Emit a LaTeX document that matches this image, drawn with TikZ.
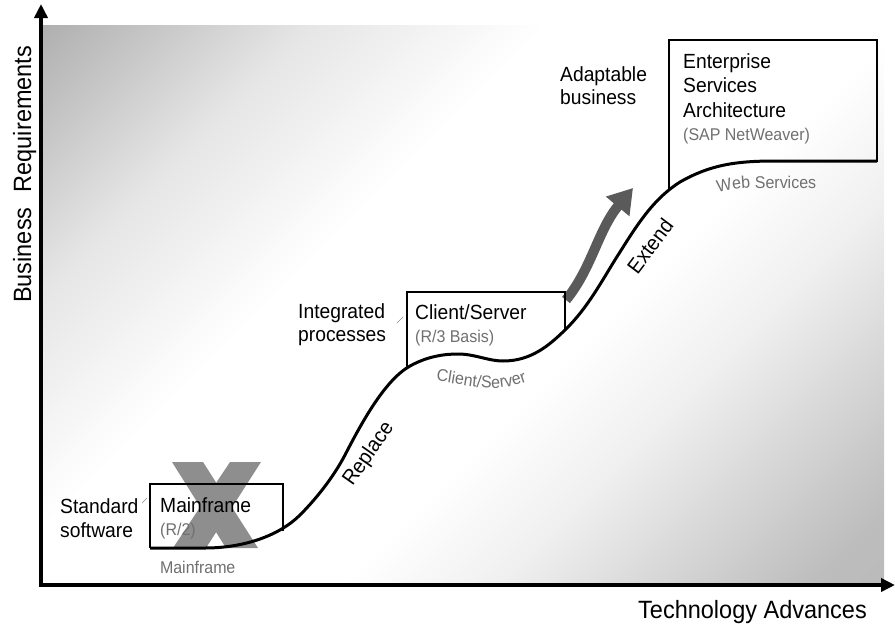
\documentclass[tikz,border=0pt]{standalone}
\usepackage{fontspec}
\setmainfont{Liberation Sans}[FakeStretch=0.94]
\usetikzlibrary{arrows.meta, positioning, decorations.text}

\definecolor{subgray}{HTML}{707070}
\definecolor{arrowgray}{HTML}{5A5A5A}
\definecolor{xgray}{HTML}{8E8E8E}

\pgfdeclareverticalshading{planeshade}{100bp}{color(0bp)=(black!30); color(18bp)=(black!26); color(34bp)=(black!6); color(42bp)=(white); color(60bp)=(white); color(72bp)=(black!10); color(86bp)=(black!32); color(100bp)=(black!35)}

\tikzset{
  axisline/.style={line width=4pt, -{Triangle[width=13pt,length=14pt]}},
  stage/.style={line width=2.5pt, line join=miter},
  sline/.style={line width=3pt},
  leader/.style={black!45, line width=0.6pt},
  lbl/.style={inner sep=0pt, anchor=base west, align=left, font=\fontsize{20.5}{24}\selectfont},
  subtext/.style={inner sep=0pt, anchor=base west, text=subgray, font=\fontsize{17}{17}\selectfont},
  axislabel/.style={inner sep=0pt, anchor=base west, font=\fontsize{25}{25}\selectfont}
}

\begin{document}
\begin{tikzpicture}[x=1pt, y=-1pt]
  \useasboundingbox (0,0) rectangle (895,630);
  % Background
  \shade[shading=planeshade, shading angle=45] (43,25) rectangle (884,583);

  % Crossed out mainframe
  \fill[xgray] (172,462) -- (203,462) -- (258,548) -- (226,548) -- cycle;
  \fill[xgray] (230,462) -- (261,462) -- (206,548) -- (173,548) -- cycle;

  % Growth arrow
  \draw[line width=10pt, arrowgray, -{Triangle[width=29pt,length=24pt]}] (566,300) .. controls (592,268) and (598,230) .. (633,188);

  % Boxes
  \draw[stage] (283,531) -- (283,484) -- (150,484) -- (150,548);
  \draw[stage] (407,368) -- (407,292) -- (565,292) -- (565,331);
  \draw[stage] (669,189) -- (669,40) -- (877,40) -- (877,162);

  % S-curve
  \draw[sline] (150,548) -- (205,548) .. controls (245,548) and (280,535) .. (300,515)
    .. controls (315,500) and (333,478) .. (345,455) .. controls (362,422) and (385,380) .. (410,366)
    .. controls (428,356) and (445,354) .. (458,354) .. controls (475,354) and (488,361) .. (503,361)
    .. controls (530,361) and (548,347) .. (567,328) .. controls (590,305) and (605,275) .. (620,252)
    .. controls (640,220) and (655,198) .. (680,182) .. controls (710,165) and (735,161) .. (775,161) -- (877,161);

  % Labels
  \node[lbl] (std) at (60,537) {Standard\\software};
  \node[lbl] (mf) at (160,512) {Mainframe};
  \node[subtext] (mfsub) at (160,535) {(R/2)};
  \node[lbl, font=\fontsize{20.5}{22.5}\selectfont] (integ) at (298,341) {Integrated\\processes};
  \node[lbl] (cs) at (415,319) {Client/Server};
  \node[subtext] (cssub) at (415,342) {(R/3 Basis)};
  \node[lbl, font=\fontsize{20.5}{22.5}\selectfont] (adapt) at (560,104) {Adaptable\\business};
  \node[lbl, font=\fontsize{20.5}{24.5}\selectfont] (esa) at (683,117) {Enterprise\\Services\\Architecture};
  \node[subtext] (esasub) at (683,140) {(SAP NetWeaver)};
  \node[inner sep=0pt, rotate=55, font=\fontsize{21}{21}\selectfont] (replace) at (369,454) {Replace};
  \node[inner sep=0pt, rotate=53, font=\fontsize{21}{21}\selectfont] (extend) at (650,246) {Extend};

  % Leaders
  \draw[leader] (142,503) -- (147,498);
  \draw[leader] (397,323) -- (403,317);

  % Curve labels
  \path[decorate, decoration={text along path, text={|\fontsize{17}{17}\selectfont\color{subgray}|Mainframe}}]
    (160,573) -- (228,573) .. controls (238,573) and (244,571) .. (254,567);
  \path[decorate, decoration={text along path, text={|\fontsize{17}{17}\selectfont\color{subgray}|Client/Server}}]
    (436,381) .. controls (460,384) and (478,389) .. (498,388) .. controls (515,387) and (530,381) .. (550,372);
  \path[decorate, decoration={text along path, text={|\fontsize{17}{17}\selectfont\color{subgray}|Web Services}}]
    (718,193) .. controls (735,189) and (745,188) .. (760,188) -- (835,188);

  % Axes
  \draw[axisline] (41,587) -- (41,4);
  \draw[axisline] (39,585) -- (895,585);
  \node[axislabel] (tech) at (638,618) {Technology Advances};
  \node[axislabel, rotate=90] (busreq) at (31,303) {Business\hspace{0.35em} Requirements};
\end{tikzpicture}
\end{document}
